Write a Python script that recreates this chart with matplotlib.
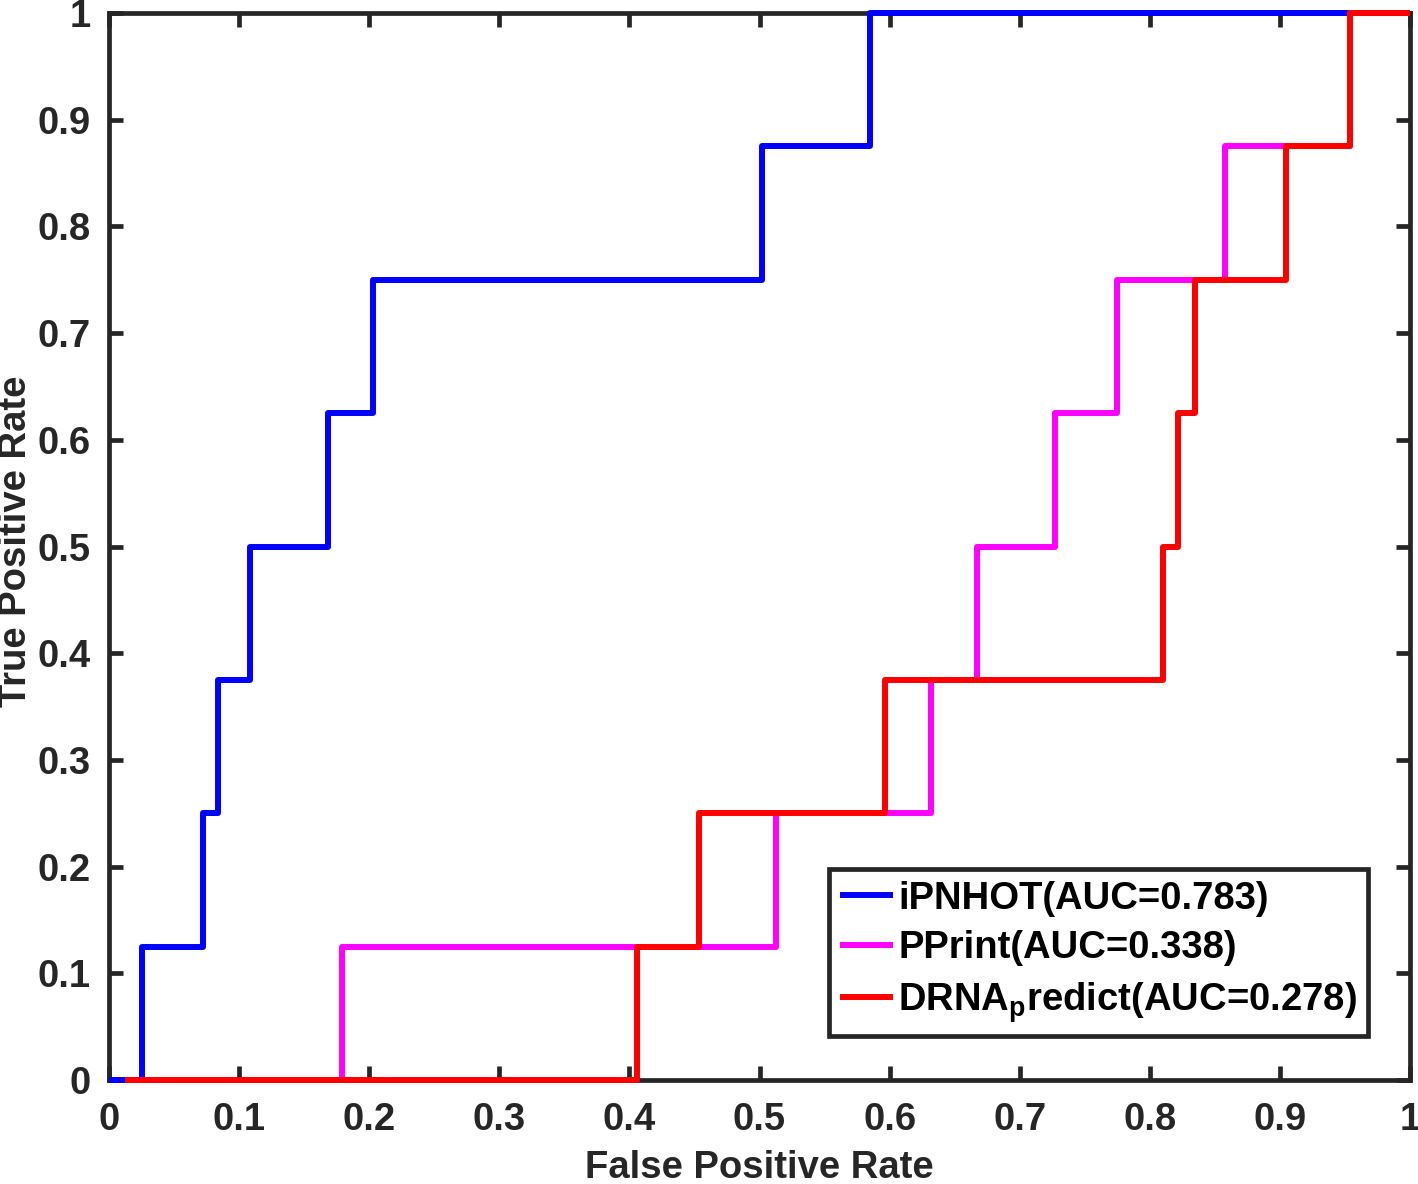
import matplotlib
matplotlib.use("Agg")
import matplotlib.pyplot as plt

plt.rcParams['font.family'] = ['Liberation Sans', 'DejaVu Sans']
plt.rcParams['font.weight'] = 'bold'
plt.rcParams['mathtext.fontset'] = 'custom'
plt.rcParams['mathtext.rm'] = 'Liberation Sans:bold'
plt.rcParams['mathtext.bf'] = 'Liberation Sans:bold'

# ROC step curves (FPR, TPR)
ipnhot_fpr = [0.0, 0.025, 0.025, 0.072, 0.072, 0.084, 0.084, 0.108, 0.108, 0.168, 0.168, 0.203, 0.203, 0.502, 0.502, 0.585, 0.585, 1.0]
ipnhot_tpr = [0.0, 0.0, 0.125, 0.125, 0.25, 0.25, 0.375, 0.375, 0.5, 0.5, 0.625, 0.625, 0.75, 0.75, 0.875, 0.875, 1.0, 1.0]

pprint_fpr = [0.012, 0.179, 0.179, 0.513, 0.513, 0.632, 0.632, 0.667, 0.667, 0.727, 0.727, 0.775, 0.775, 0.858, 0.858, 0.954, 0.954, 1.0]
pprint_tpr = [0.0, 0.0, 0.125, 0.125, 0.25, 0.25, 0.375, 0.375, 0.5, 0.5, 0.625, 0.625, 0.75, 0.75, 0.875, 0.875, 1.0, 1.0]

drna_fpr = [0.012, 0.406, 0.406, 0.4535, 0.4535, 0.5965, 0.5965, 0.810, 0.810, 0.822, 0.822, 0.835, 0.835, 0.905, 0.905, 0.954, 0.954, 1.0]
drna_tpr = [0.0, 0.0, 0.125, 0.125, 0.25, 0.25, 0.375, 0.375, 0.5, 0.5, 0.625, 0.625, 0.75, 0.75, 0.875, 0.875, 1.0, 1.0]

labels = ['iPNHOT(AUC=0.783)', 'PPrint(AUC=0.338)', r'DRNA$_{\mathrm{p}}$redict(AUC=0.278)']
colors = ['#0000ff', '#ff00ff', '#ff0000']

xticks = [0, 0.1, 0.2, 0.3, 0.4, 0.5, 0.6, 0.7, 0.8, 0.9, 1]
xticklabels = ['0', '0.1', '0.2', '0.3', '0.4', '0.5', '0.6', '0.7', '0.8', '0.9', '1']

fig = plt.figure(figsize=(14.18, 11.84), dpi=100)
ax = fig.add_axes([0.0769, 0.0878, 0.9175, 0.9012])

lw = 4.3
for fx, fy, c, lab in [(ipnhot_fpr, ipnhot_tpr, colors[0], labels[0]),
                       (pprint_fpr, pprint_tpr, colors[1], labels[1]),
                       (drna_fpr, drna_tpr, colors[2], labels[2])]:
    ax.plot(fx, fy, color=c, lw=lw, label=lab, solid_joinstyle='round',
            solid_capstyle='butt', clip_on=False, zorder=3)

ax.set_xlim(0, 1)
ax.set_ylim(0, 1)
ax.set_xticks(xticks)
ax.set_xticklabels(xticklabels)
ax.set_yticks(xticks)
ax.set_yticklabels(xticklabels)

for s in ax.spines.values():
    s.set_linewidth(3.4)
    s.set_color('#262626')
    s.set_zorder(2.5)
ax.tick_params(direction='in', length=10, width=3.4, color='#262626', labelsize=27.5,
               top=True, right=True, labelcolor='#262626')
ax.tick_params(axis='x', pad=16)
ax.tick_params(axis='y', pad=13)
for t in ax.get_xticklabels() + ax.get_yticklabels():
    t.set_fontweight('bold')

ax.set_xlabel('False Positive Rate', fontsize=27.5, fontweight='bold', color='#262626', va='center')
ax.xaxis.set_label_coords(0.5, -(1168 - 1080) / 1067)
ax.set_ylabel('True Positive Rate', fontsize=27.5, fontweight='bold', color='#262626', va='center')
ax.yaxis.set_label_coords(-(109 - 16) / 1301, 0.505)

leg = ax.legend(loc='lower left', bbox_to_anchor=(0.553, 0.041), borderaxespad=0,
                handlelength=1.4, handletextpad=0.12, labelspacing=0.36,
                borderpad=0.3, fancybox=False, framealpha=1, edgecolor='#262626',
                prop={'weight': 'bold', 'size': 27.5})
leg.get_frame().set_linewidth(3.4)
leg.set_zorder(5)

fig.savefig('out.png', dpi=100)
